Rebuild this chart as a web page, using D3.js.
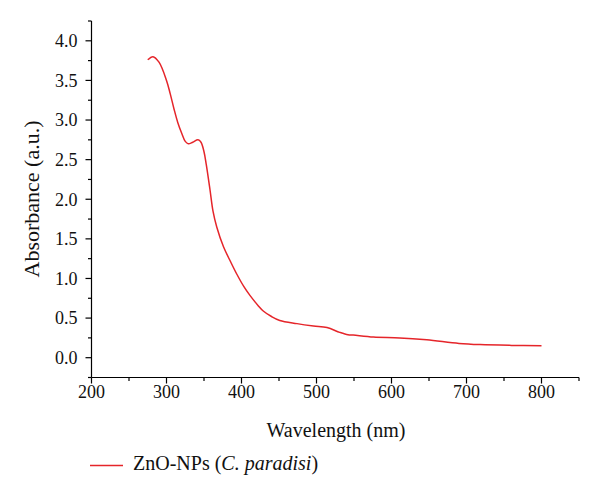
<!DOCTYPE html>
<html>
<head>
<meta charset="utf-8">
<script src="https://cdn.jsdelivr.net/npm/d3@7"></script>
<style>
  html, body { margin: 0; padding: 0; background: #fff; }
  svg { display: block; }
  text { font-family: "Liberation Serif", "Times New Roman", serif; fill: #111; }
</style>
</head>
<body>
<svg id="chart" width="600" height="499"></svg>
<script>
// Data
const wavelength = [275, 282, 290, 300, 305, 310, 315, 320, 325, 329, 335, 342, 346, 350, 353, 358, 362, 367, 376, 385, 394, 403, 411, 422, 429, 440, 451, 474, 496, 514, 531, 542, 549, 576, 611, 647, 690, 718, 760, 800];
const absorbance = [3.76, 3.80, 3.73, 3.50, 3.33, 3.14, 2.97, 2.84, 2.73, 2.70, 2.72, 2.75, 2.72, 2.60, 2.44, 2.12, 1.85, 1.65, 1.40, 1.22, 1.05, 0.90, 0.79, 0.66, 0.59, 0.52, 0.47, 0.43, 0.40, 0.38, 0.32, 0.29, 0.285, 0.26, 0.25, 0.225, 0.18, 0.165, 0.155, 0.15];
const xTicks = [200, 300, 400, 500, 600, 700, 800];
const yTicks = [0.0, 0.5, 1.0, 1.5, 2.0, 2.5, 3.0, 3.5, 4.0];
const seriesName = "ZnO-NPs";
const seriesSpecies = "C. paradisi";
const xTitle = "Wavelength (nm)";
const yTitle = "Absorbance (a.u.)";

const svg = d3.select("#chart");
const x = d3.scaleLinear().domain([200, 850]).range([91.5, 579]);
const y = d3.scaleLinear().domain([-0.25, 4.25]).range([377.5, 21]);
const red = "#e5252a";

// X axis
const xAxis = svg.append("g").attr("transform", `translate(0,${y.range()[0]})`);
xAxis.append("line").attr("x1", x.range()[0]).attr("x2", x.range()[1]).attr("stroke", "#000").attr("stroke-width", 1.2);
const xMinor = d3.range(250, 851, 100);
xAxis.selectAll(".xmin").data(xMinor).join("line")
  .attr("x1", d => x(d)).attr("x2", d => x(d)).attr("y1", 0).attr("y2", 3.5)
  .attr("stroke", "#000").attr("stroke-width", 1.2);
xAxis.selectAll(".xmaj").data(xTicks).join("line")
  .attr("x1", d => x(d)).attr("x2", d => x(d)).attr("y1", 0).attr("y2", 6)
  .attr("stroke", "#000").attr("stroke-width", 1.2);
xAxis.selectAll(".xl").data(xTicks).join("text")
  .attr("x", d => x(d)).attr("y", 20).attr("text-anchor", "middle")
  .attr("font-size", 18).text(d => d3.format("d")(d));

// Y axis
const yAxis = svg.append("g").attr("transform", `translate(${x.range()[0]},0)`);
yAxis.append("line").attr("y1", y.range()[0]).attr("y2", y.range()[1]).attr("stroke", "#000").attr("stroke-width", 1.2);
const yMinor = d3.range(-0.25, 4.26, 0.5);
yAxis.selectAll(".ymin").data(yMinor).join("line")
  .attr("y1", d => y(d)).attr("y2", d => y(d)).attr("x1", 0).attr("x2", -3.5)
  .attr("stroke", "#000").attr("stroke-width", 1.2);
yAxis.selectAll(".ymaj").data(yTicks).join("line")
  .attr("y1", d => y(d)).attr("y2", d => y(d)).attr("x1", 0).attr("x2", -6)
  .attr("stroke", "#000").attr("stroke-width", 1.2);
yAxis.selectAll(".yl").data(yTicks).join("text")
  .attr("x", -14).attr("y", d => y(d)).attr("dy", "0.35em").attr("text-anchor", "end")
  .attr("font-size", 18).text(d => d3.format(".1f")(d));

// Titles
svg.append("text").attr("x", 336).attr("y", 437).attr("text-anchor", "middle")
  .attr("font-size", 20).text(xTitle);
svg.append("text").attr("transform", "translate(39,199) rotate(-90)").attr("text-anchor", "middle")
  .attr("font-size", 22).text(yTitle);

// Line
const pts = wavelength.map((w, i) => [w, absorbance[i]]);
svg.append("path").datum(pts)
  .attr("fill", "none").attr("stroke", red).attr("stroke-width", 1.5)
  .attr("d", d3.line().x(d => x(d[0])).y(d => y(d[1])).curve(d3.curveCatmullRom.alpha(0.5)));

// Legend
const lg = svg.append("g");
lg.append("line").attr("x1", 90).attr("x2", 123).attr("y1", 465.5).attr("y2", 465.5)
  .attr("stroke", red).attr("stroke-width", 1.5);
const lt = lg.append("text").attr("x", 133).attr("y", 470).attr("font-size", 20);
lt.append("tspan").text(seriesName + " (");
lt.append("tspan").attr("font-style", "italic").text(seriesSpecies);
lt.append("tspan").text(")");
</script>
</body>
</html>
